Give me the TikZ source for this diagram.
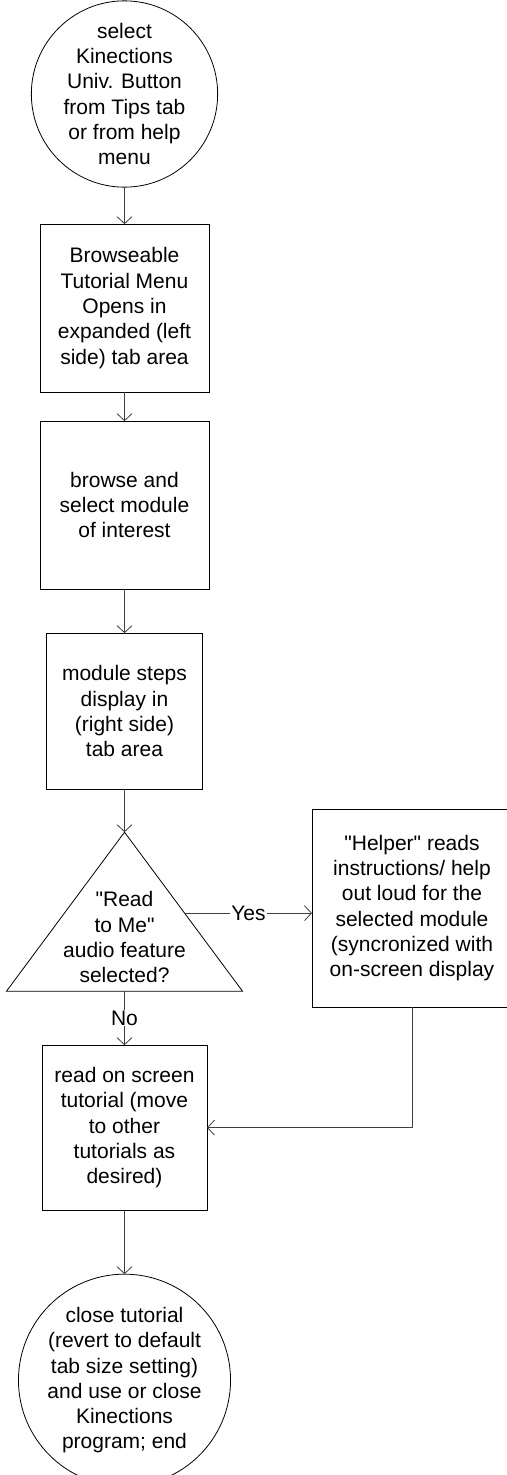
\documentclass[tikz,border=0pt]{standalone}
\usepackage{fontspec}
\setmainfont{Liberation Sans}
\usetikzlibrary{arrows.meta,positioning}

\begin{document}
\begin{tikzpicture}[x=1pt, y=-1pt,
    every node/.style={font=\fontsize{21}{25.3}\selectfont, align=center},
    terminal/.style={circle, draw, inner sep=0pt, outer sep=0pt, line width=0.8pt},
    block/.style={rectangle, draw, inner sep=0pt, outer sep=0pt, line width=0.8pt},
    arrow/.style={-{Straight Barb[length=7pt,width=15pt]}, draw=black!75, line width=0.8pt},
    lbl/.style={fill=white, inner sep=1pt}]

    \useasboundingbox (0,0) rectangle (506,1475);

    \node[terminal, minimum size=176pt] (start) at (124.5,94) {select\\Kinections\\Univ. Button\\from Tips tab\\or from help\\menu};
    \node[block, minimum width=169pt, minimum height=168pt, below=37pt of start] (tutmenu) {Browseable\\Tutorial Menu\\Opens in\\expanded (left\\side) tab area};
    \node[block, minimum width=169pt, minimum height=168pt, below=29pt of tutmenu] (pick) {browse and\\select module\\of interest};
    \node[block, minimum width=156pt, minimum height=156pt, below=44pt of pick] (steps) {module steps\\display in\\(right side)\\tab area};

    % decision triangle
    \coordinate[below=43pt of steps] (apex);
    \coordinate (baseL) at ([shift={(-118,159)}]apex);
    \coordinate (baseR) at ([shift={(118,159)}]apex);
    \coordinate (nofrom) at ([shift={(0,159)}]apex);
    \coordinate (yesfrom) at ([shift={(60.5,81)}]apex);
    \draw[line width=0.8pt] (apex) -- (baseR) -- (baseL) -- cycle;
    \node (dec) at ([shift={(0,105)}]apex) {\textquotedbl Read\\to Me\textquotedbl\\audio feature\\selected?};

    \node[block, minimum width=200pt, minimum height=198pt, anchor=north west] (helper) at (312,809) {\textquotedbl Helper\textquotedbl\ reads\\instructions/ help\\out loud for the\\selected module\\(syncronized with\\on-screen display};
    \node[block, minimum width=165pt, minimum height=165pt, below=54pt of nofrom] (readtut) {read on screen\\tutorial (move\\to other\\tutorials as\\desired)};
    \node[terminal, minimum size=209pt, below=64pt of readtut] (finish) {close tutorial\\(revert to default\\tab size setting)\\and use or close\\Kinections\\program; end};

    \draw[arrow] (start) -- (tutmenu);
    \draw[arrow] (tutmenu) -- (pick);
    \draw[arrow] (pick) -- (steps);
    \draw[arrow] (steps) -- (apex);
    \draw[arrow] (yesfrom) -- node[lbl] {Yes} (yesfrom -| helper.west);
    \draw[arrow] (nofrom) -- node[lbl] {No} (readtut);
    \draw[arrow] (helper.south) |- (readtut.east);
    \draw[arrow] (readtut) -- (finish);

\end{tikzpicture}
\end{document}
